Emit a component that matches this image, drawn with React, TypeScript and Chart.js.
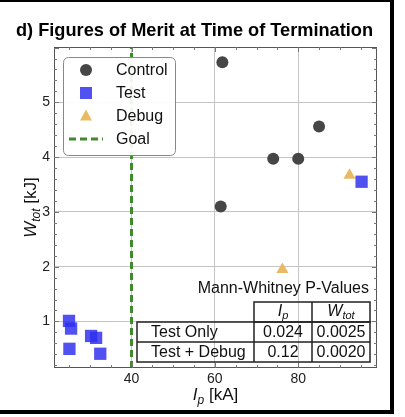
import React, { useEffect, useRef } from "react";
import { Chart, registerables } from "chart.js";
Chart.register(...registerables);

const controlX = [61.8, 85.0, 74.0, 80.0, 61.4];
const controlY = [5.73, 4.56, 3.97, 3.97, 3.1];
const testX = [95.2, 25.0, 25.5, 25.1, 30.3, 31.5, 32.5];
const testY = [3.55, 1.01, 0.87, 0.5, 0.735, 0.7, 0.41];
const debugX = [92.3, 76.2];
const debugY = [3.67, 1.95];
const goalIp = 40;
const xMin = 21.4;
const xMax = 98.9;
const yMin = 0.15;
const yMax = 6.01;
const yTickMax = 5;
const tableRows = ["Test Only", "Test + Debug"];
const ipPValues = ["0.024", "0.12"];
const wtotPValues = ["0.0025", "0.0020"];
const legendLabels = ["Control", "Test", "Debug", "Goal"];

const FONT = '"Liberation Sans", Arial, Helvetica, sans-serif';
const C_CONTROL = "#464646";
const C_TEST = "rgba(48,48,240,0.84)";
const C_DEBUG = "rgba(232,182,92,0.95)";
const C_GOAL = "#3f8a2e";

function drawSub(ctx: CanvasRenderingContext2D, parts: { t: string; f: string; dy: number }[], cx: number, cy: number) {
  let w = 0;
  for (const p of parts) { ctx.font = p.f; w += ctx.measureText(p.t).width; }
  let x = cx - w / 2;
  ctx.textAlign = "left";
  ctx.textBaseline = "alphabetic";
  for (const p of parts) {
    ctx.font = p.f;
    ctx.fillText(p.t, x, cy + p.dy);
    x += ctx.measureText(p.t).width;
  }
}

const overlay = {
  id: "overlay",
  afterDraw(chart: any) {
    const ctx: CanvasRenderingContext2D = chart.ctx;
    const { left, right, top, bottom } = chart.chartArea;
    const xs = chart.scales.x;
    const ys = chart.scales.y;
    ctx.save();
    // frame
    ctx.strokeStyle = "#555";
    ctx.lineWidth = 1;
    ctx.strokeRect(left + 0.5, top + 0.5, right - left - 1, bottom - top - 1);
    // minor ticks
    ctx.strokeStyle = "#777";
    for (let v = 25; v < xMax; v += 5) {
      const px = Math.round(xs.getPixelForValue(v)) + 0.5;
      const len = v % 20 === 0 ? 5 : 3;
      ctx.beginPath();
      ctx.moveTo(px, bottom); ctx.lineTo(px, bottom - len);
      ctx.moveTo(px, top); ctx.lineTo(px, top + len);
      ctx.stroke();
    }
    for (let i = 1; i * 0.2 < yMax; i++) {
      const v = i * 0.2;
      if (v < yMin) continue;
      const py = Math.round(ys.getPixelForValue(v)) + 0.5;
      const len = i % 5 === 0 ? 5 : 3;
      ctx.beginPath();
      ctx.moveTo(left, py); ctx.lineTo(left + len, py);
      ctx.moveTo(right, py); ctx.lineTo(right - len, py);
      ctx.stroke();
    }

    // legend
    const lx = 63, ly = 57, lw = 112, lh = 98;
    ctx.beginPath();
    (ctx as any).roundRect(lx + 0.5, ly + 0.5, lw, lh, 5);
    ctx.fillStyle = "rgba(255,255,255,0.92)";
    ctx.fill();
    ctx.strokeStyle = "#888";
    ctx.lineWidth = 1;
    ctx.stroke();
    const rowsY = [70, 93, 116, 139];
    const mx = 86;
    ctx.fillStyle = C_CONTROL;
    ctx.beginPath(); ctx.arc(mx, rowsY[0], 6, 0, Math.PI * 2); ctx.fill();
    ctx.fillStyle = C_TEST;
    ctx.fillRect(mx - 6, rowsY[1] - 6, 12, 12);
    ctx.fillStyle = C_DEBUG;
    ctx.beginPath();
    ctx.moveTo(mx, rowsY[2] - 6.5);
    ctx.lineTo(mx + 6, rowsY[2] + 4.5);
    ctx.lineTo(mx - 6, rowsY[2] + 4.5);
    ctx.closePath(); ctx.fill();
    ctx.strokeStyle = C_GOAL;
    ctx.lineWidth = 3;
    ctx.setLineDash([7, 4]);
    ctx.beginPath(); ctx.moveTo(69, rowsY[3]); ctx.lineTo(103, rowsY[3]); ctx.stroke();
    ctx.setLineDash([]);
    ctx.fillStyle = "#111";
    ctx.font = `16px ${FONT}`;
    ctx.textAlign = "left";
    ctx.textBaseline = "middle";
    legendLabels.forEach((t, i) => ctx.fillText(t, 116, rowsY[i] + 1));

    // table
    ctx.fillStyle = "#111";
    ctx.font = `16px ${FONT}`;
    ctx.textAlign = "right";
    ctx.textBaseline = "middle";
    ctx.fillText("Mann-Whitney P-Values", 369, 289);
    const cx = [137, 254, 312, 370];
    const ry = [302, 322, 342, 362];
    ctx.strokeStyle = "#222";
    ctx.lineWidth = 1.5;
    ctx.strokeRect(cx[1], ry[0], cx[3] - cx[1], ry[1] - ry[0]);
    ctx.beginPath(); ctx.moveTo(cx[2], ry[0]); ctx.lineTo(cx[2], ry[3]); ctx.stroke();
    ctx.strokeRect(cx[0], ry[1], cx[3] - cx[0], ry[3] - ry[1]);
    ctx.beginPath(); ctx.moveTo(cx[0], ry[2]); ctx.lineTo(cx[3], ry[2]); ctx.moveTo(cx[1], ry[1]); ctx.lineTo(cx[1], ry[3]); ctx.stroke();
    drawSub(ctx, [
      { t: "I", f: `italic 16px ${FONT}`, dy: 0 },
      { t: "p", f: `italic 11px ${FONT}`, dy: 3 },
    ], 283, 316);
    drawSub(ctx, [
      { t: "W", f: `italic 16px ${FONT}`, dy: 0 },
      { t: "tot", f: `italic 11px ${FONT}`, dy: 3 },
    ], 341, 316);
    ctx.font = `16px ${FONT}`;
    ctx.textBaseline = "middle";
    tableRows.forEach((t, i) => {
      const yc = (ry[i + 1] + ry[i + 2]) / 2 + 1;
      ctx.textAlign = "left";
      ctx.fillText(t, 151, yc);
      ctx.textAlign = "center";
      ctx.fillText(ipPValues[i], (cx[1] + cx[2]) / 2, yc);
      ctx.fillText(wtotPValues[i], (cx[2] + cx[3]) / 2, yc);
    });

    // axis titles
    ctx.fillStyle = "#111";
    drawSub(ctx, [
      { t: "I", f: `italic 17px ${FONT}`, dy: 0 },
      { t: "p", f: `italic 12px ${FONT}`, dy: 4 },
      { t: " [kA]", f: `17px ${FONT}`, dy: 0 },
    ], (left + right) / 2, 400);
    ctx.save();
    ctx.translate(36, (top + bottom) / 2);
    ctx.rotate(-Math.PI / 2);
    drawSub(ctx, [
      { t: "W", f: `italic 17px ${FONT}`, dy: 0 },
      { t: "tot", f: `italic 12px ${FONT}`, dy: 4 },
      { t: " [kJ]", f: `17px ${FONT}`, dy: 0 },
    ], 0, 0);
    ctx.restore();

    // title
    ctx.fillStyle = "#000";
    ctx.font = `bold 18.2px ${FONT}`;
    ctx.textAlign = "center";
    ctx.textBaseline = "alphabetic";
    ctx.fillText("d) Figures of Merit at Time of Termination", 194.5, 36);

    // outer frame
    ctx.fillStyle = "#000";
    ctx.fillRect(0, 0, 394, 2);
    ctx.fillRect(390, 0, 4, 414);
    ctx.fillRect(0, 410, 394, 4);
    ctx.restore();
  },
};

export default function App() {
  const ref = useRef<HTMLCanvasElement | null>(null);
  useEffect(() => {
    if (!ref.current) return;
    const pts = (xs: number[], ys: number[]) => xs.map((x, i) => ({ x, y: ys[i] }));
    const chart = new Chart(ref.current, {
      type: "scatter",
      data: {
        datasets: [
          {
            label: "Goal",
            data: [{ x: goalIp, y: yMin }, { x: goalIp, y: yMax }],
            showLine: true,
            borderColor: C_GOAL,
            borderWidth: 3,
            borderDash: [7, 4],
            pointRadius: 0,
            order: 4,
          } as any,
          {
            label: "Control",
            data: pts(controlX, controlY),
            pointStyle: "circle",
            pointRadius: 6,
            backgroundColor: C_CONTROL,
            borderWidth: 0,
            order: 3,
          },
          {
            label: "Debug",
            data: pts(debugX, debugY),
            pointStyle: "triangle",
            pointRadius: 7,
            backgroundColor: C_DEBUG,
            borderWidth: 0,
            order: 2,
          },
          {
            label: "Test",
            data: pts(testX, testY),
            pointStyle: "rect",
            pointRadius: 8.7,
            backgroundColor: C_TEST,
            borderWidth: 0,
            order: 1,
          },
        ],
      },
      options: {
        responsive: false,
        animation: false,
        layout: { padding: { top: 47, right: 28, left: 0, bottom: 0 } },
        plugins: { legend: { display: false }, tooltip: { enabled: false }, title: { display: false } },
        scales: {
          x: {
            type: "linear",
            min: xMin,
            max: xMax,
            ticks: { stepSize: 20, includeBounds: false, padding: 3, color: "#222", font: { family: FONT, size: 14 } },
            grid: { color: "#c4c4c4", drawTicks: false },
            border: { display: false },
            afterFit: (s: any) => { s.height = 49; },
          },
          y: {
            type: "linear",
            min: yMin,
            max: yMax,
            ticks: { stepSize: 1, includeBounds: false, padding: 4, color: "#222", font: { family: FONT, size: 14 } },
            grid: { color: "#c4c4c4", drawTicks: false },
            border: { display: false },
            afterBuildTicks: (s: any) => { s.ticks = s.ticks.filter((t: any) => t.value <= yTickMax); },
            afterFit: (s: any) => { s.width = 54; },
          },
        },
      },
      plugins: [overlay],
    } as any);
    return () => chart.destroy();
  }, []);
  return (
    <div style={{ position: "absolute", left: 0, top: 0, width: 405, height: 417, background: "#fff" }}>
      <canvas ref={ref} width={405} height={417} style={{ width: 405, height: 417 }} />
    </div>
  );
}
